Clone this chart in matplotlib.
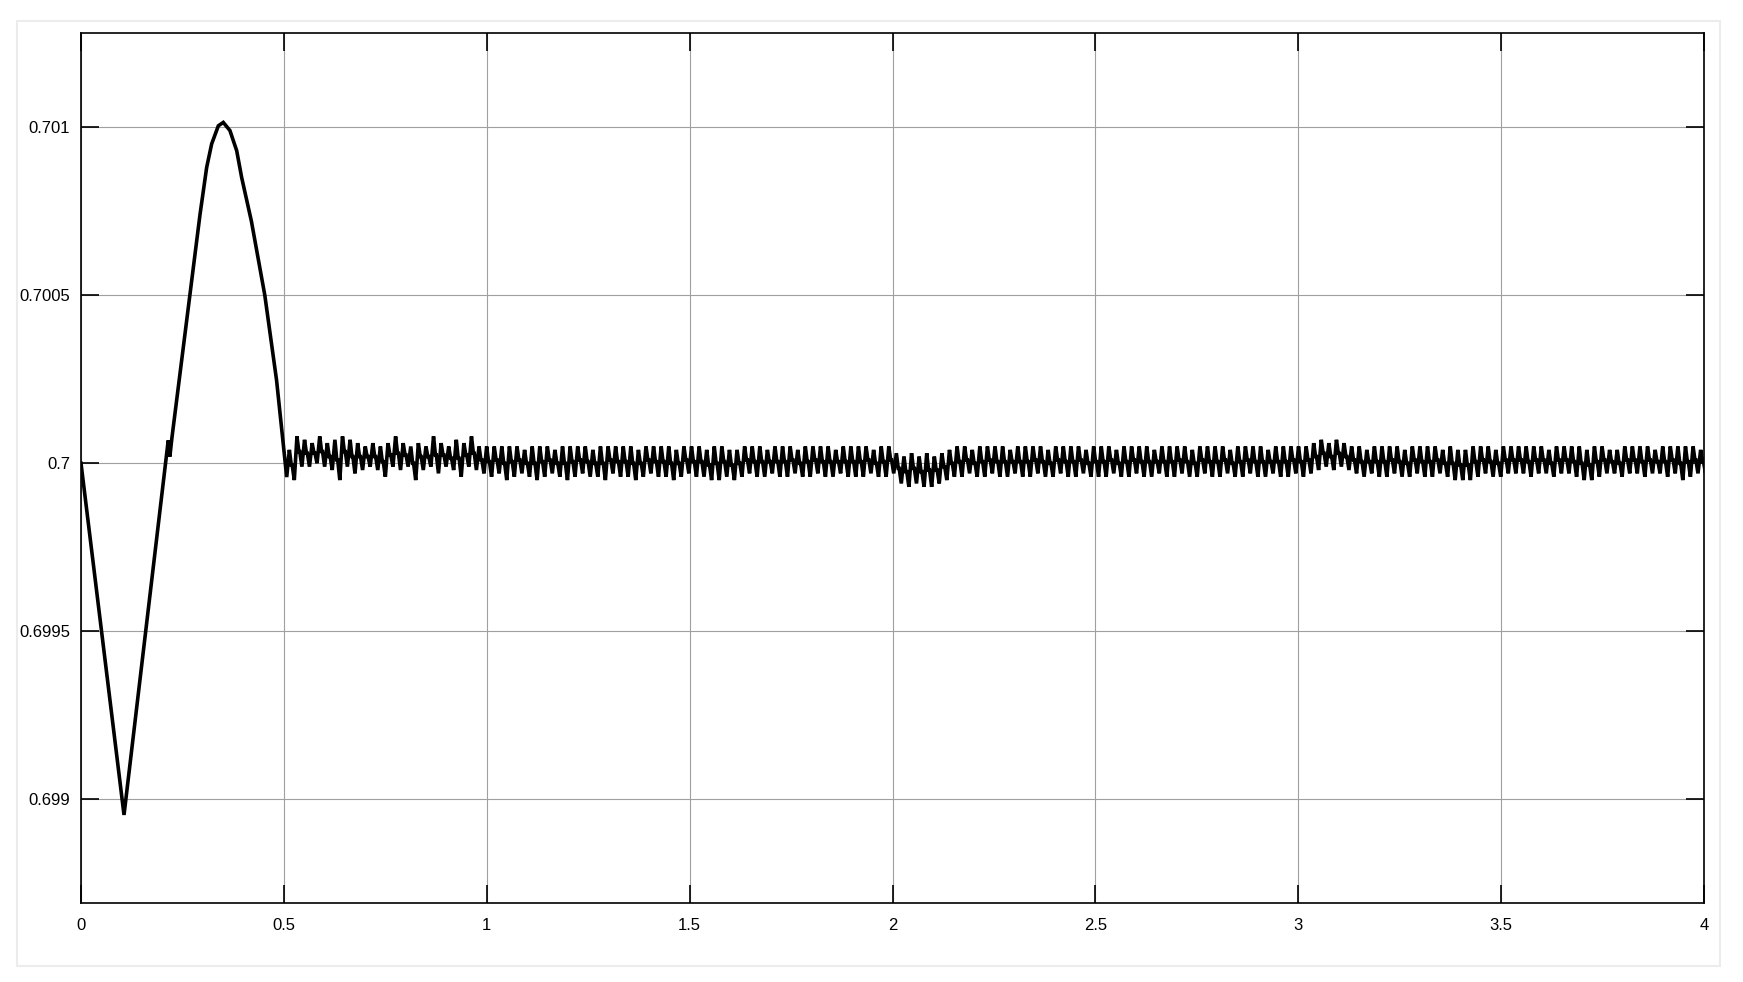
import matplotlib
matplotlib.use("Agg")
import matplotlib.pyplot as plt
from matplotlib.patches import Rectangle
import numpy as np

# ---- data ----
# transient part (time in s, value)
trans_t = [0.0, 0.106, 0.215, 0.219, 0.224, 0.2933, 0.3097, 0.322, 0.3385, 0.3507, 0.367, 0.3837, 0.396,
           0.42, 0.453, 0.482, 0.507]
trans_v = [0.7, 0.698954, 0.700068, 0.70002, 0.700075, 0.70074, 0.70088, 0.70095, 0.701004, 0.701014, 0.70099,
           0.70093, 0.70085, 0.70072, 0.7005, 0.700247, 0.699959]

# ripple after the transient: per-cycle peak / trough deviation from 0.7 (units of 1e-5)
ripple_start = 0.507
ripple_period = 0.0187
base_value = 0.7
peaks_a = [4, 8, 7, 6, 8, 6, 7, 8, 7, 6, 5, 6, 5, 6, 8, 6, 5, 6, 5, 8, 6, 5, 7, 6, 8, 5]
troughs_a = [-5, -1, -1, 0, -1, -2, -5, -1, -3, -2, -1, -2, -4, -1, -2, -1, -5, -2, -1, -3, -1, -2, -4, -1, -2, -3]
peaks_b = [5, 5, 5, 5, 5, 4, 5, 5, 5, 4, 5, 5, 5, 5, 4, 5, 5, 5, 5, 5, 4, 5, 5, 5, 5, 4, 5]
troughs_b = [-4, -3, -5, -4, -3, -4, -5, -4, -3, -4, -5, -4, -3, -4, -4, -5, -3, -4, -4, -5, -4, -3, -4, -4, -5, -4, -3]
peaks_c = [5, 5, 4, 5, 5, 4, 4, 5, 5, 5, 4, 5, 5, 5, 4, 5, 5, 5, 5, 4, 5, 5, 5, 5, 4, 5, 5]
troughs_c = [-4, -4, -5, -5, -4, -5, -4, -3, -4, -4, -3, -4, -4, -3, -4, -4, -3, -4, -4, -3, -4, -4, -4, -3, -4, -4, -3]
peaks_d = [3, 2, 3, 2, 3, 2, 3, 4, 5, 5, 4, 5, 5, 5, 5, 4, 5, 5, 5, 5, 4, 5, 5, 5, 5, 4, 5]
troughs_d = [-6, -7, -6, -7, -7, -6, -5, -4, -4, -3, -4, -4, -3, -4, -4, -3, -4, -4, -3, -4, -4, -3, -4, -4, -3, -4, -4]
peaks_e = [5, 5, 4, 5, 5, 5, 5, 4, 5, 5, 5, 5, 4, 5, 5, 5, 5, 4, 5, 5, 5, 5, 4, 5, 5, 5, 5]
troughs_e = [-4, -3, -4, -4, -3, -4, -4, -3, -4, -4, -3, -4, -4, -3, -4, -4, -3, -4, -4, -3, -4, -4, -3, -4, -4, -3, -4]
peaks_f = [5, 6, 7, 6, 7, 6, 5, 5, 4, 5, 5, 5, 5, 4, 5, 5, 5, 5, 4, 5, 4, 4, 5, 5, 5, 4, 5]
troughs_f = [-3, -2, -1, -2, -1, -2, -3, -4, -3, -4, -4, -3, -4, -4, -3, -4, -4, -3, -4, -5, -5, -5, -4, -3, -4, -4, -3]
peaks_g = [5, 5, 5, 5, 5, 4, 5, 5, 5, 5, 4, 5, 5, 4, 4, 5, 5, 5, 5, 4, 5, 5, 5, 5, 5, 4, 5]
troughs_g = [-3, -3, -4, -3, -3, -4, -3, -3, -4, -5, -5, -4, -3, -3, -4, -3, -3, -4, -3, -3, -4, -3, -5, -4, -3, -3, -4]

x_ticks = [0, 0.5, 1, 1.5, 2, 2.5, 3, 3.5, 4]
x_labels = ["0", "0.5", "1", "1.5", "2", "2.5", "3", "3.5", "4"]
y_ticks = [0.699, 0.6995, 0.7, 0.7005, 0.701]
y_labels = ["0.699", "0.6995", "0.7", "0.7005", "0.701"]

# ---- build the trace (each cycle: rise to peak, step down, fall to trough) ----
peaks = peaks_a + peaks_b + peaks_c + peaks_d + peaks_e + peaks_f + peaks_g
troughs = troughs_a + troughs_b + troughs_c + troughs_d + troughs_e + troughs_f + troughs_g
rt, rv = [], []
for k, (p, q) in enumerate(zip(peaks, troughs)):
    t0 = ripple_start + k * ripple_period
    mid = 0.5 * (p + q)
    rt += [t0 + 0.35 * ripple_period, t0 + 0.6 * ripple_period, t0 + 0.72 * ripple_period, t0 + ripple_period]
    rv += [base_value + p * 1e-5, base_value + mid * 1e-5, base_value + mid * 1e-5, base_value + q * 1e-5]
t = np.array(trans_t + rt)
v = np.array(trans_v + rv)

# ---- figure ----
plt.rcParams['font.family'] = ['Liberation Sans', 'DejaVu Sans']
fig = plt.figure(figsize=(17.43, 9.82), dpi=100)
fig.patches.append(Rectangle((17 / 1743, 1 - 966 / 982), (1720 - 17) / 1743, (966 - 21) / 982,
                             transform=fig.transFigure, fill=False, edgecolor='#ececec', linewidth=1.5))
ax = fig.add_axes([81 / 1743, 1 - 903 / 982, (1704 - 81) / 1743, (903 - 33) / 982])
ax.plot(t, v, color='black', linewidth=2.6, solid_joinstyle='miter')
ax.set_xlim(0, 4)
ax.set_ylim(0.698692, 0.70128)
ax.set_xticks(x_ticks)
ax.set_xticklabels(x_labels)
ax.set_yticks(y_ticks)
ax.set_yticklabels(y_labels)
ax.grid(True, color='#a0a0a0', linewidth=0.8)
ax.tick_params(direction='in', length=13, width=1.2, top=True, right=True, labelsize=12,
               colors='black')
ax.tick_params(axis='y', pad=8)
ax.tick_params(axis='x', pad=11)
for s in ax.spines.values():
    s.set_linewidth(1.2)
    s.set_color('black')
fig.savefig("out.png", dpi=100)
